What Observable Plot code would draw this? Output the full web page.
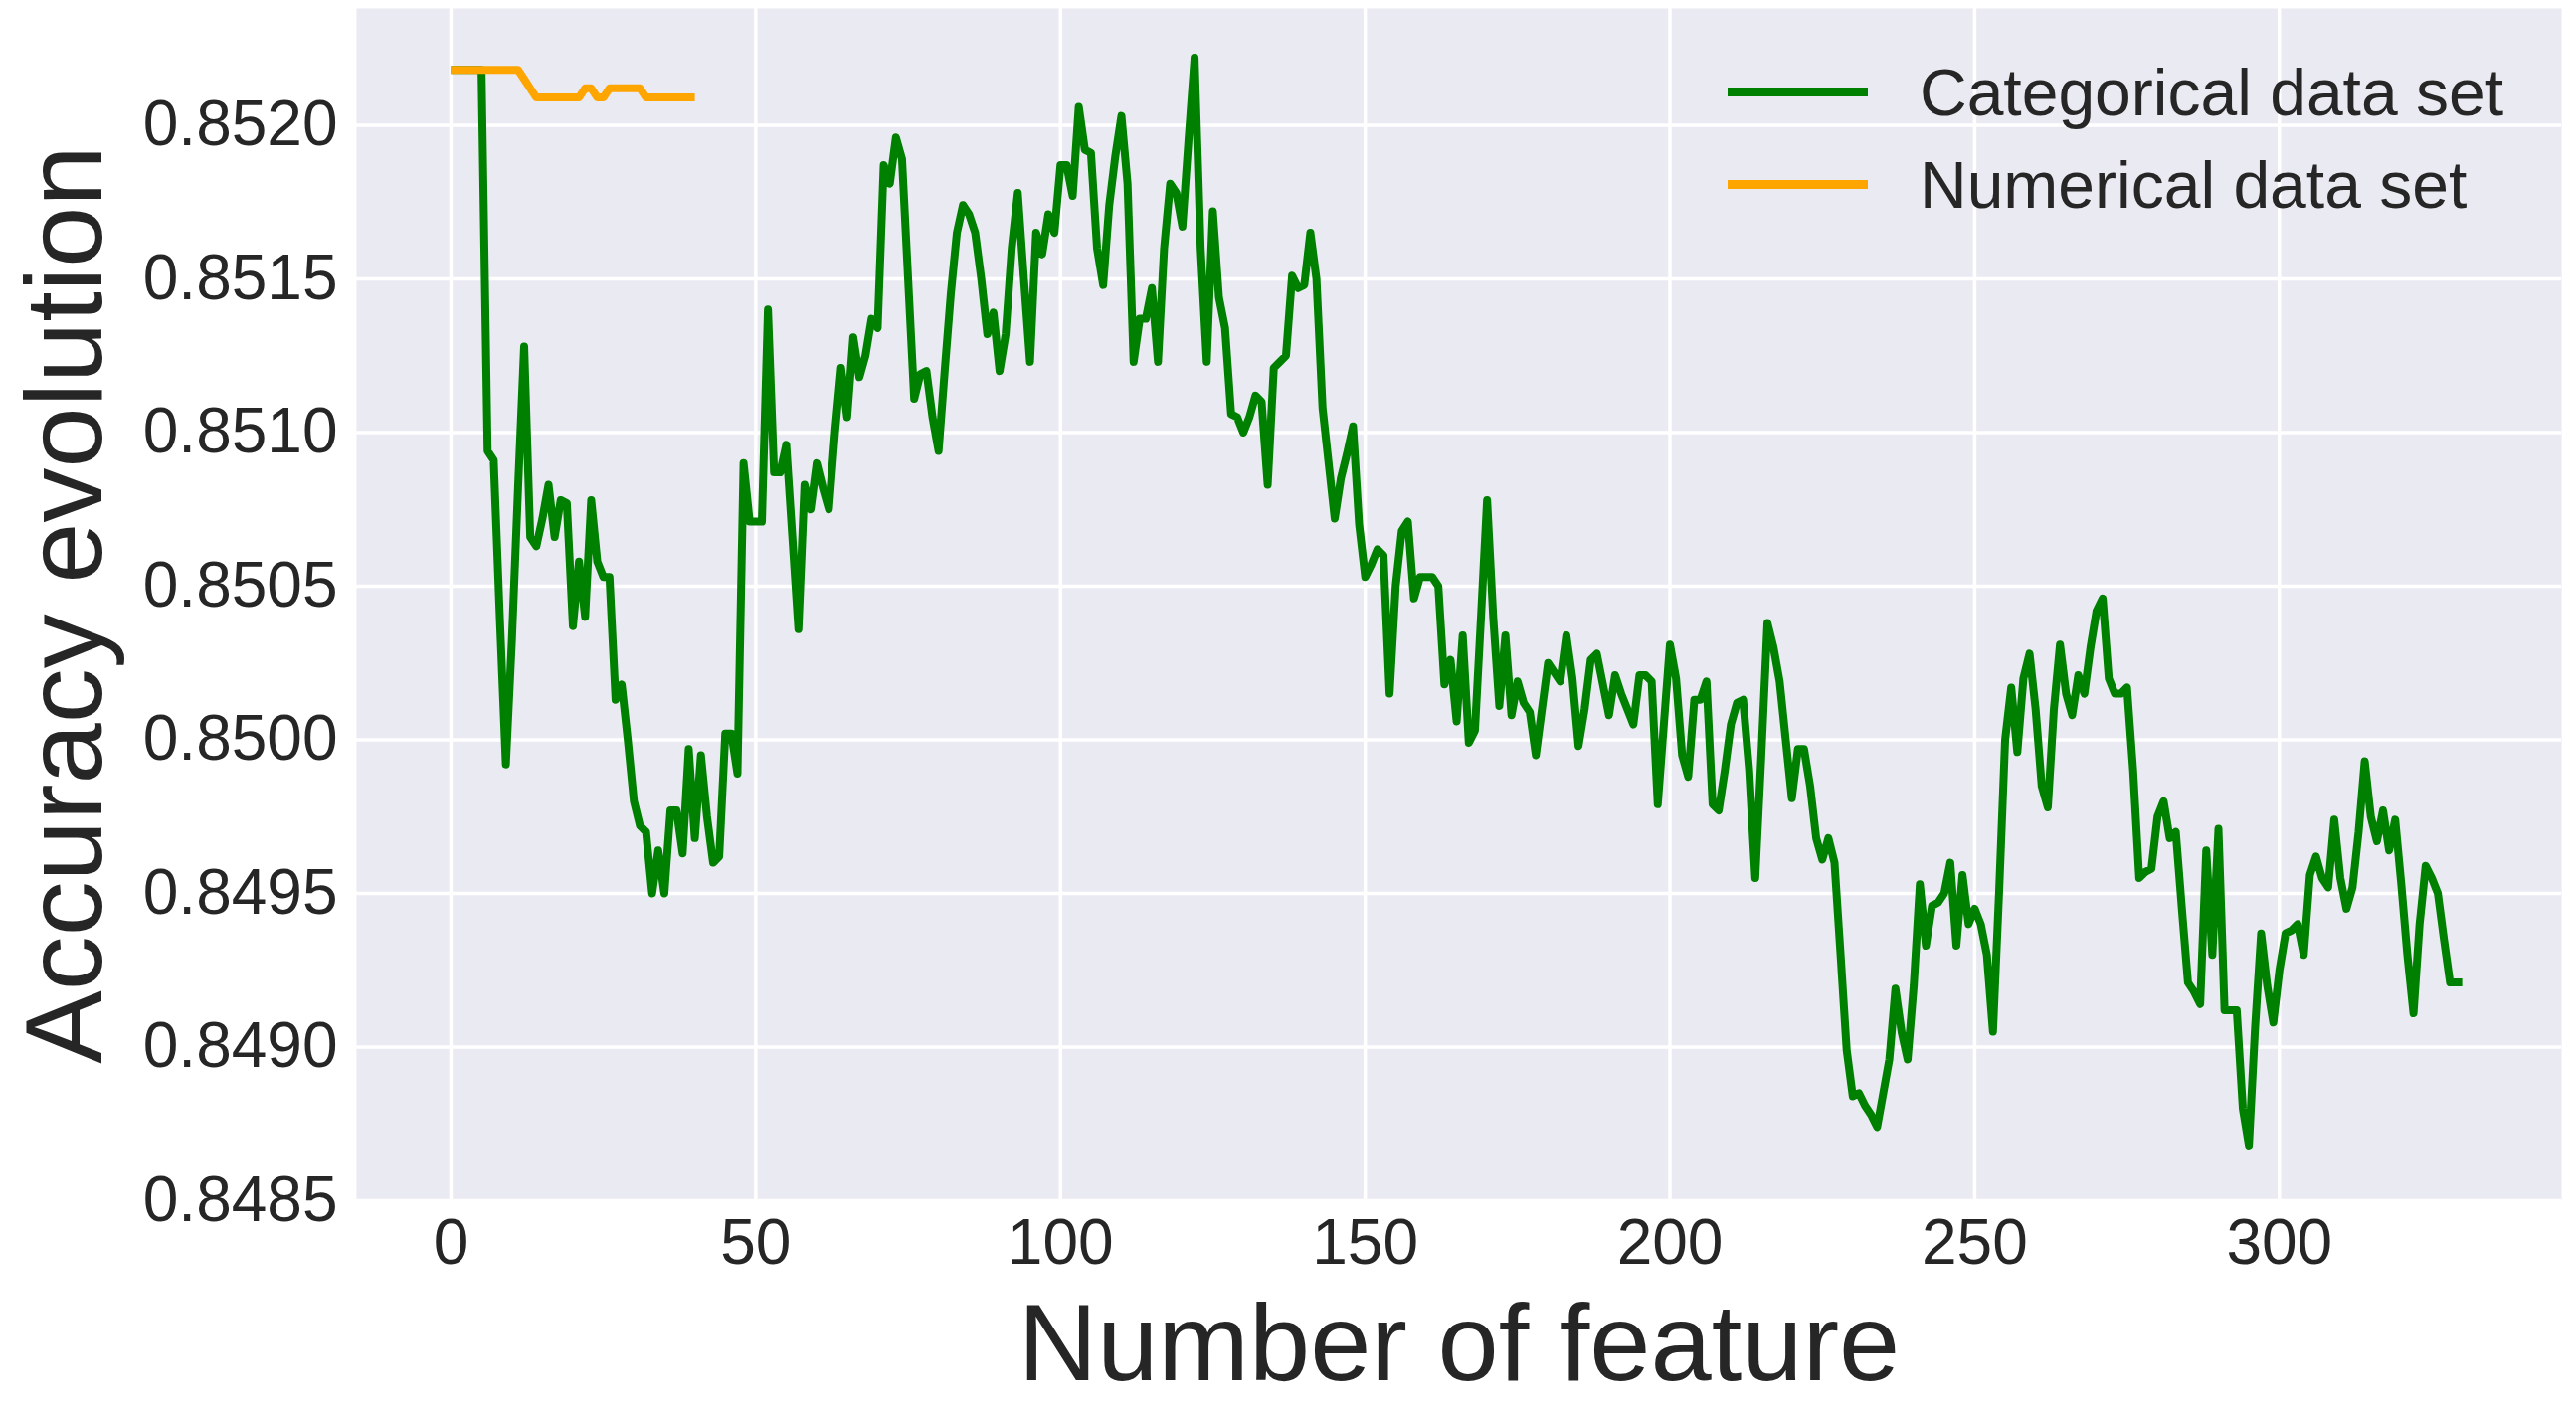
<!DOCTYPE html>
<html>
<head>
<meta charset="utf-8">
<script src="https://cdn.jsdelivr.net/npm/d3@7"></script>
<script src="https://cdn.jsdelivr.net/npm/@observablehq/plot@0.6"></script>
<style>
html, body { margin: 0; padding: 0; background: #ffffff; }
#wrap { position: relative; width: 2590px; height: 1425px; font-family: "Liberation Sans", Arial, sans-serif; }
#legend { position: absolute; left: 1737px; top: 46px; color: #262626; font-size: 66px; }
.item { display: flex; align-items: center; height: 93px; white-space: nowrap; }
.swatch { width: 141px; height: 9px; margin-right: 52px; }
</style>
</head>
<body>
<div id="wrap"></div>
<script>
// Accuracy per number of features (index = number of features)
const categoricalAccuracy = [
  0.85218,0.85218,0.85218,0.85218,0.85218,0.85218,0.85094,0.85091,0.85040,0.84992,
  0.85033,0.85082,0.85128,0.85066,0.85063,0.85072,0.85083,0.85066,0.85078,0.85077,
  0.85037,0.85058,0.85040,0.85078,0.85058,0.85053,0.85053,0.85013,0.85018,0.85000,
  0.84980,0.84972,0.84970,0.84950,0.84964,0.84950,0.84977,0.84977,0.84963,0.84997,
  0.84968,0.84995,0.84975,0.84960,0.84962,0.85002,0.85002,0.84989,0.85090,0.85071,
  0.85071,0.85071,0.85140,0.85087,0.85087,0.85096,0.85066,0.85036,0.85083,0.85075,
  0.85090,0.85082,0.85075,0.85100,0.85121,0.85105,0.85131,0.85118,0.85125,0.85137,
  0.85134,0.85187,0.85181,0.85196,0.85189,0.85150,0.85111,0.85119,0.85120,0.85105,
  0.85094,0.85120,0.85145,0.85165,0.85174,0.85171,0.85165,0.85150,0.85132,0.85139,
  0.85120,0.85132,0.85160,0.85178,0.85150,0.85123,0.85165,0.85158,0.85171,0.85165,
  0.85187,0.85187,0.85177,0.85206,0.85192,0.85191,0.85160,0.85148,0.85174,0.85190,
  0.85203,0.85181,0.85123,0.85137,0.85137,0.85147,0.85123,0.85160,0.85181,0.85178,
  0.85167,0.85195,0.85222,0.85160,0.85123,0.85172,0.85144,0.85134,0.85106,0.85105,
  0.85100,0.85105,0.85112,0.85110,0.85083,0.85121,0.85123,0.85125,0.85151,0.85147,
  0.85148,0.85165,0.85150,0.85108,0.85090,0.85072,0.85085,0.85093,0.85102,0.85070,
  0.85053,0.85057,0.85062,0.85060,0.85015,0.85050,0.85068,0.85071,0.85046,0.85053,
  0.85053,0.85053,0.85050,0.85018,0.85026,0.85006,0.85034,0.84999,0.85003,0.85040,
  0.85078,0.85040,0.85011,0.85034,0.85008,0.85019,0.85012,0.85009,0.84995,0.85010,
  0.85025,0.85022,0.85019,0.85034,0.85020,0.84998,0.85010,0.85026,0.85028,0.85018,
  0.85008,0.85021,0.85015,0.85010,0.85005,0.85021,0.85021,0.85019,0.84979,0.85005,
  0.85031,0.85020,0.84995,0.84988,0.85013,0.85013,0.85019,0.84979,0.84977,0.84990,
  0.85005,0.85012,0.85013,0.84990,0.84955,0.84995,0.85038,0.85030,0.85019,0.85000,
  0.84981,0.84997,0.84997,0.84985,0.84968,0.84961,0.84968,0.84960,0.84930,0.84899,
  0.84884,0.84885,0.84881,0.84878,0.84874,0.84885,0.84896,0.84919,0.84905,0.84896,
  0.84920,0.84953,0.84933,0.84946,0.84947,0.84950,0.84960,0.84933,0.84956,0.84940,
  0.84945,0.84940,0.84930,0.84905,0.84950,0.85000,0.85017,0.84996,0.85020,0.85028,
  0.85010,0.84985,0.84978,0.85010,0.85031,0.85015,0.85008,0.85021,0.85015,0.85030,
  0.85042,0.85046,0.85020,0.85015,0.85015,0.85017,0.84990,0.84955,0.84957,0.84958,
  0.84975,0.84980,0.84968,0.84970,0.84945,0.84921,0.84918,0.84914,0.84964,0.84930,
  0.84971,0.84912,0.84912,0.84912,0.84880,0.84868,0.84906,0.84937,0.84920,0.84908,
  0.84925,0.84937,0.84938,0.84940,0.84930,0.84956,0.84962,0.84955,0.84952,0.84974,
  0.84955,0.84945,0.84952,0.84970,0.84993,0.84975,0.84967,0.84977,0.84964,0.84974,
  0.84953,0.84930,0.84911,0.84940,0.84959,0.84955,0.84950,0.84935,0.84921,0.84921,
  0.84921
];

const numericalAccuracy = [
  0.85218,0.85218,0.85218,0.85218,0.85218,0.85218,0.85218,0.85218,0.85218,0.85218,
  0.85218,0.85218,0.85215,0.85212,0.85209,0.85209,0.85209,0.85209,0.85209,0.85209,
  0.85209,0.85209,0.85212,0.85212,0.85209,0.85209,0.85212,0.85212,0.85212,0.85212,
  0.85212,0.85212,0.85209,0.85209,0.85209,0.85209,0.85209,0.85209,0.85209,0.85209,
  0.85209
];

const seriesNames = ["Categorical data set", "Numerical data set"];
const seriesColors = ["green", "orange"];
const xTicks = [0, 50, 100, 150, 200, 250, 300];
const yTicks = [0.8485, 0.8490, 0.8495, 0.8500, 0.8505, 0.8510, 0.8515, 0.8520];
const xLabel = "Number of feature";
const yLabel = "Accuracy evolution";

const rows = [
  ...categoricalAccuracy.map((v, i) => ({feature: i, accuracy: v, series: seriesNames[0]})),
  ...numericalAccuracy.map((v, i) => ({feature: i, accuracy: v, series: seriesNames[1]}))
];

const chart = Plot.plot({
  width: 2590,
  height: 1425,
  marginLeft: 358,
  marginRight: 15,
  marginTop: 8,
  marginBottom: 218,
  style: {fontFamily: "Liberation Sans, Arial, sans-serif", color: "#262626", background: "#ffffff"},
  x: {domain: [-15.5, 346.3]},
  y: {domain: [0.8485, 0.85238]},
  color: {domain: seriesNames, range: seriesColors},
  marks: [
    Plot.frame({fill: "#EAEAF2", stroke: "none"}),
    Plot.gridX(xTicks, {stroke: "#ffffff", strokeOpacity: 1, strokeWidth: 3.5}),
    Plot.gridY(yTicks, {stroke: "#ffffff", strokeOpacity: 1, strokeWidth: 3.5}),
    Plot.axisX(xTicks, {tickSize: 0, tickPadding: 18, fontSize: 64, label: null}),
    Plot.axisY(yTicks, {tickSize: 0, tickPadding: 19, fontSize: 64, label: null, tickFormat: d3.format(".4f")}),
    Plot.line(rows, {x: "feature", y: "accuracy", z: "series", stroke: "series", strokeWidth: 8, strokeLinejoin: "round", strokeLinecap: "butt"}),
    Plot.text([xLabel], {text: d => d, frameAnchor: "bottom", textAnchor: "middle", lineAnchor: "bottom", dy: 180, fontSize: 110}),
    Plot.text([yLabel], {text: d => d, frameAnchor: "left", textAnchor: "middle", lineAnchor: "bottom", rotate: -90, dx: -257, fontSize: 110})
  ]
});

const wrap = document.getElementById("wrap");
wrap.appendChild(chart);

const legend = document.createElement("div");
legend.id = "legend";
seriesNames.forEach((name, i) => {
  const item = document.createElement("div");
  item.className = "item";
  const sw = document.createElement("span");
  sw.className = "swatch";
  sw.style.background = seriesColors[i];
  const label = document.createElement("span");
  label.textContent = name;
  item.appendChild(sw);
  item.appendChild(label);
  legend.appendChild(item);
});
wrap.appendChild(legend);
</script>
</body>
</html>
